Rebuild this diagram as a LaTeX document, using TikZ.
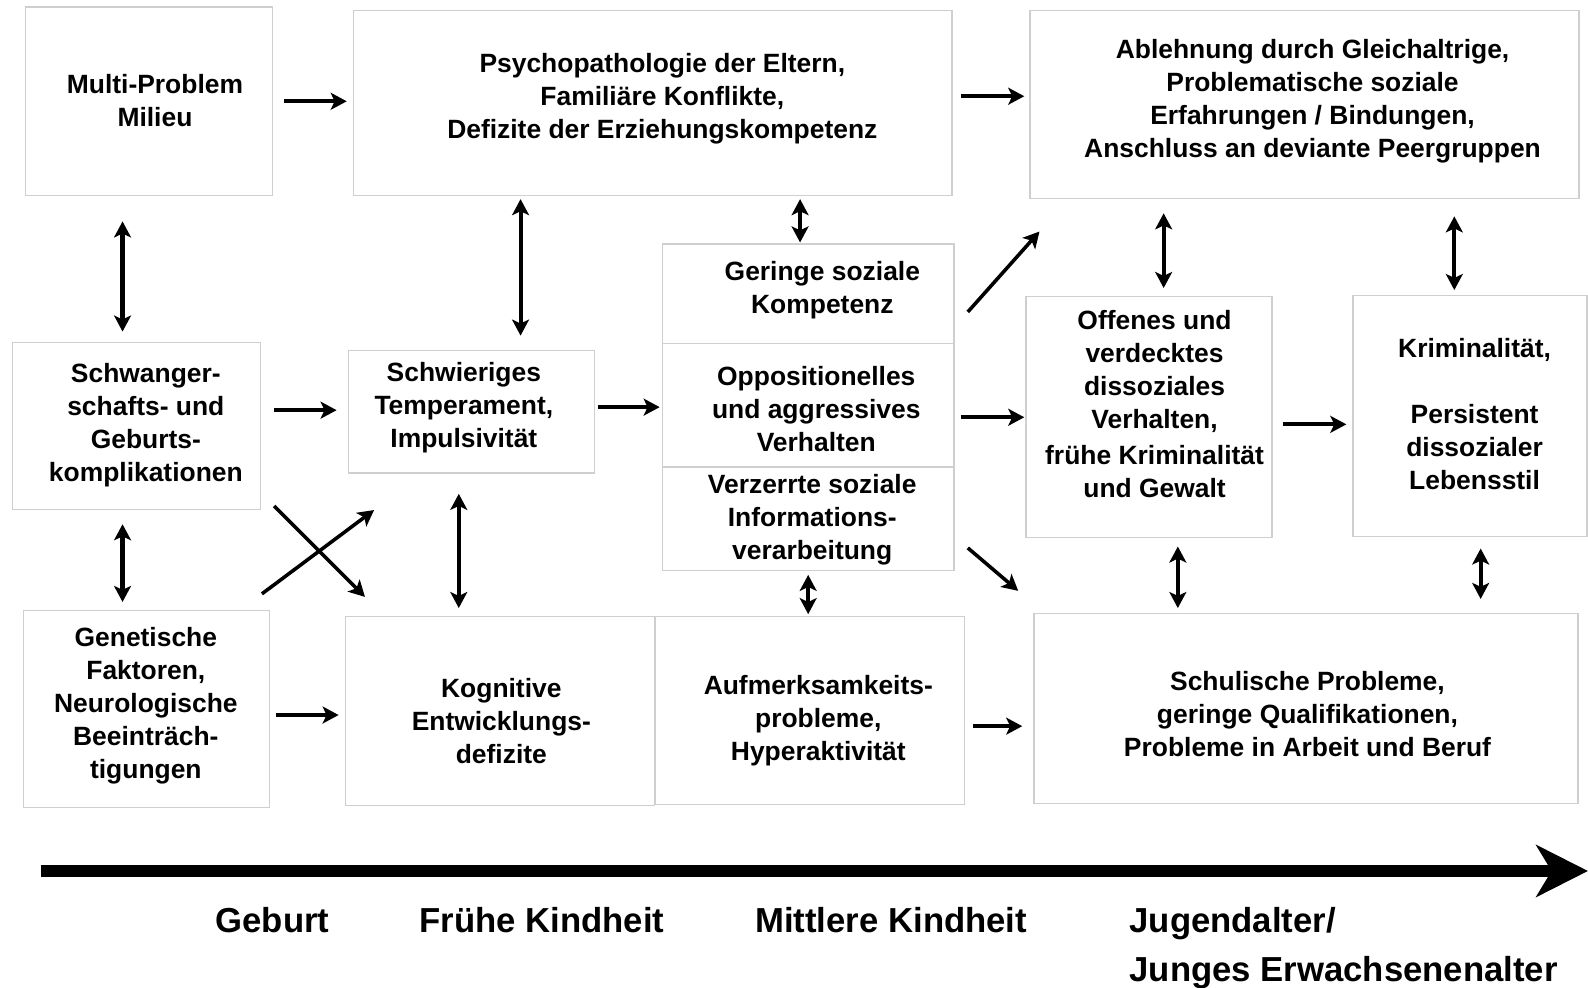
\documentclass[tikz,border=0pt]{standalone}
\usepackage{fontspec}
\setmainfont{Liberation Sans}
\usetikzlibrary{arrows.meta, fit, calc}
\definecolor{boxline}{HTML}{CFCFCF}

\begin{document}
\begin{tikzpicture}[
    x=0.02cm, y=-0.02cm,
    box/.style={rectangle, draw=boxline, line width=0.7pt, inner sep=0pt},
    txt/.style={align=center, font=\fontsize{14.85}{18.55}\selectfont\bfseries, inner sep=0pt},
    phase/.style={font=\fontsize{19.5}{27}\selectfont\bfseries, inner sep=0pt},
    arr/.style={line width=2.3pt, -{Stealth[length=9pt, width=9.5pt, inset=2.2pt]}},
    dbl/.style={line width=2.3pt, {Stealth[length=9pt, width=9.5pt, inset=2.2pt]}-{Stealth[length=9pt, width=9.5pt, inset=2.2pt]}},
    sh/.style 2 args={shorten <=#1*0.569pt, shorten >=#2*0.569pt}
]
\useasboundingbox (0,0) rectangle (1568,975);

% Row 1
\node[box, fit={(25,7) (269,193)}] (multi) {};
\node[txt] (multitxt) at (153,99) {Multi-Problem\\Milieu};
\node[box, fit={(349,10) (940,193)}] (psycho) {};
\node[txt] (psychotxt) at (654,97) {Psychopathologie der Eltern,\\Familiäre Konflikte,\\Defizite der Erziehungskompetenz};
\node[box, fit={(1017,10) (1559,196)}] (ablehnung) {};
\node[txt] (ablehnungtxt) at (1296,100) {Ablehnung durch Gleichaltrige,\\Problematische soziale\\Erfahrungen / Bindungen,\\Anschluss an deviante Peergruppen};

% Row 2
\node[box, fit={(12,338) (257,503)}] (schwanger) {};
\node[txt] (schwangertxt) at (144,420) {Schwanger-\\schafts- und\\Geburts-\\komplikationen};
\node[box, fit={(344,346) (587,467)}] (schwierig) {};
\node[txt] (schwierigtxt) at (458,402.5) {Schwieriges\\Temperament,\\Impulsivität};
\node[box, fit={(654,241) (942,339)}] (geringe) {};
\node[txt] (geringetxt) at (812,286.5) {Geringe soziale\\Kompetenz};
\node[box, fit={(654,339) (942,461)}] (opposit) {};
\node[txt] (opposittxt) at (806,403.5) {Oppositionelles\\und aggressives\\Verhalten};
\node[box, fit={(654,461) (942,563)}] (verzerrt) {};
\node[txt] (verzerrttxt) at (802,513.5) {Verzerrte soziale\\Informations-\\verarbeitung};
\node[box, fit={(1013,293) (1256,531)}] (offenes) {};
\node[txt] (offenestxt) at (1140,399) {Offenes und\\verdecktes\\dissoziales\\Verhalten,\\[2pt]frühe Kriminalität\\und Gewalt};
\node[box, fit={(1336,292) (1567,530)}] (krimin) {};
\node[txt] (krimintxt) at (1456,408.5) {Kriminalität,\\[18.55pt]Persistent\\dissozialer\\Lebensstil};

% Row 3
\node[box, fit={(23,603) (266,797)}] (genet) {};
\node[txt] (genettxt) at (144,697) {Genetische\\Faktoren,\\Neurologische\\Beeinträch-\\tigungen};
\node[box, fit={(341,609) (646,795)}] (kognitiv) {};
\node[txt] (kognitivtxt) at (495,712) {Kognitive\\Entwicklungs-\\defizite};
\node[box, fit={(647,609) (952,794)}] (aufmerk) {};
\node[txt] (aufmerktxt) at (808,712) {Aufmerksamkeits-\\probleme,\\Hyperaktivität};
\node[box, fit={(1021,606) (1558,793)}] (schul) {};
\node[txt] (schultxt) at (1291,705) {Schulische Probleme,\\geringe Qualifikationen,\\Probleme in Arbeit und Beruf};

% Connections
\draw[arr, sh={11}{6}] (multi.east |- 0,100) -- (psycho.west |- 0,100);
\draw[arr, sh={8}{5}] (psycho.east |- 0,95) -- (ablehnung.west |- 0,95);
\draw[arr, sh={13}{11}] (schwanger.east |- 0,405) -- (schwierig.west |- 0,405);
\draw[arr, sh={3}{2}] (schwierig.east |- 0,402) -- (opposit.west |- 0,402);
\draw[arr, sh={6}{1}] (opposit.east |- 0,412) -- (offenes.west |- 0,412);
\draw[arr, sh={10}{6}] (offenes.east |- 0,419) -- (krimin.west |- 0,419);
\draw[arr, sh={6}{6}] (genet.east |- 0,706) -- (kognitiv.west |- 0,706);
\draw[arr, sh={8}{11}] (aufmerk.east |- 0,717) -- (schul.west |- 0,717);

\draw[dbl, sh={25}{10}] (multi.south -| 121,0) -- (schwanger.north -| 121,0);
\draw[dbl, sh={3}{14}] (psycho.south -| 514,0) -- (schwierig.north -| 514,0);
\draw[dbl, sh={3}{1}] (psycho.south -| 790,0) -- (geringe.north -| 790,0);
\draw[dbl, sh={14}{8}] (ablehnung.south -| 1149,0) -- (offenes.north -| 1149,0);
\draw[dbl, sh={17}{5}] (ablehnung.south -| 1436,0) -- (krimin.north -| 1436,0);
\draw[dbl, sh={14}{8}] (schwanger.south -| 121,0) -- (genet.north -| 121,0);
\draw[dbl, sh={20}{8}] (schwierig.south -| 453,0) -- (kognitiv.north -| 453,0);
\draw[dbl, sh={4}{2}] (verzerrt.south -| 798,0) -- (aufmerk.north -| 798,0);
\draw[dbl, sh={8}{5}] (offenes.south -| 1163,0) -- (schul.north -| 1163,0);
\draw[dbl, sh={11}{14}] (krimin.south -| 1462,0) -- (schul.north -| 1462,0);

\draw[arr, line width=2pt] ($(geringe.east)+(13,18)$) -- ($(ablehnung.south west)+(10,32)$);
\draw[arr, line width=2pt] ($(verzerrt.east)+(13,29)$) -- ($(schul.north west)+(-15,-22)$);
\draw[arr, line width=2pt] ($(schwanger.south east)+(13,-4)$) -- ($(kognitiv.north west)+(20,-19)$);
\draw[arr, line width=2pt] ($(genet.north east)+(-8,-16)$) -- ($(schwierig.south west)+(26,36)$);

% Timeline
\coordinate (tstart) at (40,860);
\coordinate (tend) at (1568,860);
\draw[line width=0.24cm, -{Stealth[length=1.02cm, width=1.02cm, inset=0.3cm]}] (tstart) -- (tend);

\node[phase, anchor=base] (geburt) at (269,921) {Geburt};
\node[phase, anchor=base] (frueh) at (535,921) {Frühe Kindheit};
\node[phase, anchor=base] (mittel) at (880,921) {Mittlere Kindheit};
\node[phase, anchor=base west] (jugend) at (1115,921) {Jugendalter/};
\node[phase, anchor=base west] (junges) at (1115,969) {Junges Erwachsenenalter};
\end{tikzpicture}
\end{document}
